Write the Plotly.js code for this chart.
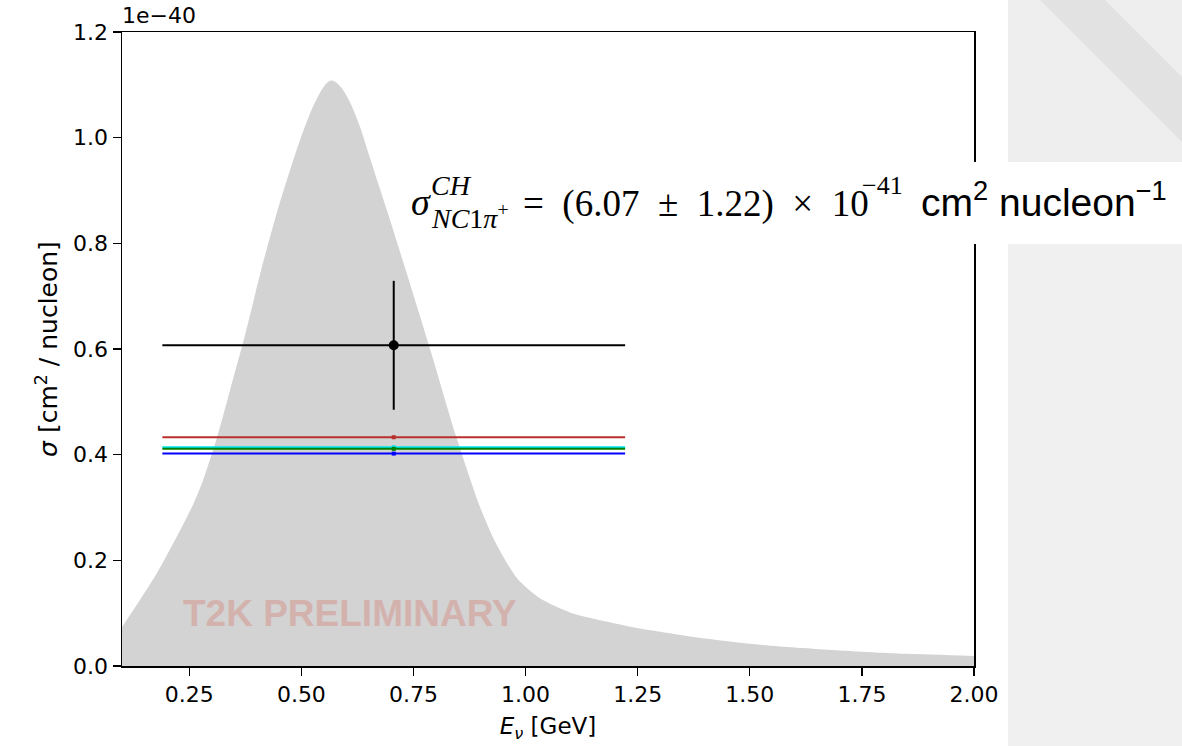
<!DOCTYPE html>
<html>
<head>
<meta charset="utf-8">
<script src="https://cdn.plot.ly/plotly-3.0.1.min.js"></script>
<style>
  html, body { margin: 0; padding: 0; background: #ffffff; }
  #chart { width: 1182px; height: 746px; }
</style>
</head>
<body>
<div id="chart"></div>
<script>
// ---- data (cross sections in units of 1e-40 cm^2 / nucleon) ----
const fluxEnergy = [0.10,0.14,0.178,0.218,0.256,0.281,0.312,0.341,0.374,0.412,0.446,0.481,0.501,0.524,0.545,0.555,0.565,0.575,0.590,0.608,0.631,0.649,0.691,0.727,0.787,0.843,0.872,0.898,0.932,0.981,1.032,1.10,1.17,1.23,1.30,1.40,1.50,1.60,1.73,1.85,2.00];
const fluxShape  = [0.074,0.125,0.176,0.238,0.301,0.352,0.433,0.522,0.625,0.755,0.860,0.955,1.005,1.055,1.090,1.102,1.108,1.106,1.094,1.068,1.020,0.972,0.862,0.765,0.600,0.440,0.365,0.302,0.235,0.166,0.128,0.101,0.086,0.075,0.065,0.052,0.042,0.035,0.028,0.023,0.019];

const measEnergy = [0.706];
const measEnergyHalfWidth = [0.516];
const measSigma = [0.607];
const measSigmaErr = [0.122];

const predNames  = ['Prediction (red)', 'Prediction (cyan)', 'Prediction (green)', 'Prediction (blue)'];
const predSigma  = [0.433, 0.414, 0.411, 0.402];
const predColors = ['#b8302c', '#00e5ee', '#008000', '#0000ff'];

const xTicks = [0.25, 0.50, 0.75, 1.00, 1.25, 1.50, 1.75, 2.00];
const yTicks = [0.0, 0.2, 0.4, 0.6, 0.8, 1.0, 1.2];

// ---- geometry helpers (pixel -> paper) ----
const L = 122, R = 974, T = 32, B = 666;
const px = v => (v - L) / (R - L);
const py = v => (B - v) / (B - T);

const traces = [];
traces.push({
  x: fluxEnergy, y: fluxShape, type: 'scatter', mode: 'lines',
  line: {width: 0, shape: 'spline', smoothing: 0.7, color: '#d3d3d3'},
  fill: 'tozeroy', fillcolor: '#d3d3d3', hoverinfo: 'skip', showlegend: false
});
predSigma.forEach((v, i) => {
  traces.push({
    x: measEnergy, y: [v], type: 'scatter', mode: 'markers', name: predNames[i],
    marker: {color: predColors[i], size: 4, symbol: 'square'},
    error_x: {type: 'data', array: measEnergyHalfWidth, color: predColors[i], thickness: 2, width: 0},
    showlegend: false
  });
});
traces.push({
  x: measEnergy, y: measSigma, type: 'scatter', mode: 'markers', name: 'T2K data',
  marker: {color: '#000000', size: 10},
  error_x: {type: 'data', array: measEnergyHalfWidth, color: '#000000', thickness: 2, width: 0},
  error_y: {type: 'data', array: measSigmaErr, color: '#000000', thickness: 2, width: 0},
  showlegend: false
});

const tickFont = {family: 'DejaVu Sans', size: 22, color: '#000'};
const serif = 'Liberation Serif';
const sp = '\u2002';

const annotations = [
  {text: '1e\u221240', xref: 'paper', yref: 'paper', x: px(120), y: py(16), xanchor: 'left', yanchor: 'middle', showarrow: false, font: tickFont},
  {text: '<b>T2K PRELIMINARY</b>', xref: 'paper', yref: 'paper', x: px(350), y: py(613), xanchor: 'center', yanchor: 'middle', showarrow: false, font: {family: 'Liberation Sans', size: 37, color: '#d3b2ae'}},
  {text: '<i>σ</i>', xref: 'paper', yref: 'paper', x: px(409), y: py(202), xanchor: 'left', yanchor: 'middle', showarrow: false, font: {family: serif, size: 38, color: '#000'}},
  {text: '<i>CH</i>', xref: 'paper', yref: 'paper', x: px(429), y: py(185), xanchor: 'left', yanchor: 'middle', showarrow: false, font: {family: serif, size: 28, color: '#000'}},
  {text: '<i>NC</i>1<i>π</i><sup>+</sup>', xref: 'paper', yref: 'paper', x: px(429), y: py(217), xanchor: 'left', yanchor: 'middle', showarrow: false, font: {family: serif, size: 28, color: '#000'}},
  {text: '=' + sp + '(6.07' + sp + '±' + sp + '1.22)' + sp + '×' + sp + '10', xref: 'paper', yref: 'paper', x: px(521), y: py(204), xanchor: 'left', yanchor: 'middle', showarrow: false, font: {family: serif, size: 37, color: '#000'}},
  {text: '\u221241', xref: 'paper', yref: 'paper', x: px(860), y: py(185), xanchor: 'left', yanchor: 'middle', showarrow: false, font: {family: serif, size: 26, color: '#000'}},
  {text: 'cm<sup>2</sup> nucleon<sup>\u22121</sup>', xref: 'paper', yref: 'paper', x: px(919), y: py(199), xanchor: 'left', yanchor: 'middle', showarrow: false, font: {family: 'Liberation Sans', size: 39, color: '#000'}}
];

const shapes = [
  {type: 'rect', xref: 'paper', yref: 'paper', x0: px(1008), x1: px(1190), y0: py(-5), y1: py(162), fillcolor: '#eeeeee', line: {width: 0}, layer: 'below'},
  {type: 'path', xref: 'paper', yref: 'paper', path: `M ${px(1035)} ${py(-5)} L ${px(1100)} ${py(-5)} L ${px(1190)} ${py(85)} L ${px(1190)} ${py(150)} Z`, fillcolor: '#e2e2e2', line: {width: 0}, layer: 'below'},
  {type: 'rect', xref: 'paper', yref: 'paper', x0: px(1008), x1: px(1190), y0: py(244), y1: py(760), fillcolor: '#f0f0f0', line: {width: 0}, layer: 'below'},
  {type: 'rect', xref: 'paper', yref: 'paper', x0: px(965), x1: px(1008), y0: py(244), y1: py(162), fillcolor: '#ffffff', line: {width: 0}, layer: 'above'}
];

const layout = {
  width: 1182, height: 746,
  margin: {l: L, r: 1182 - R, t: T, b: 746 - B, pad: 0},
  paper_bgcolor: '#ffffff', plot_bgcolor: 'rgba(0,0,0,0)',
  showlegend: false,
  xaxis: {
    range: [0.1, 2.0], tickvals: xTicks, ticktext: xTicks.map(v => v.toFixed(2)),
    ticks: 'outside', ticklen: 8, tickwidth: 1.3, tickcolor: '#000',
    showline: true, linecolor: '#000', linewidth: 1.5, mirror: true,
    showgrid: false, zeroline: false, tickfont: tickFont,
    title: {text: '<i>E</i><sub><i>ν</i></sub> [GeV]', font: {family: 'DejaVu Sans', size: 23, color: '#000'}, standoff: 12}
  },
  yaxis: {
    range: [0, 1.2], tickvals: yTicks, ticktext: yTicks.map(v => v.toFixed(1)),
    ticks: 'outside', ticklen: 8, tickwidth: 1.3, tickcolor: '#000',
    showline: true, linecolor: '#000', linewidth: 1.5, mirror: true,
    showgrid: false, zeroline: false, tickfont: tickFont,
    title: {text: '<i>σ</i> [cm<sup>2</sup> / nucleon]', font: {family: 'DejaVu Sans', size: 25, color: '#000'}, standoff: 8}
  },
  annotations: annotations,
  shapes: shapes
};

Plotly.newPlot('chart', traces, layout, {displayModeBar: false, staticPlot: true});
</script>
</body>
</html>
